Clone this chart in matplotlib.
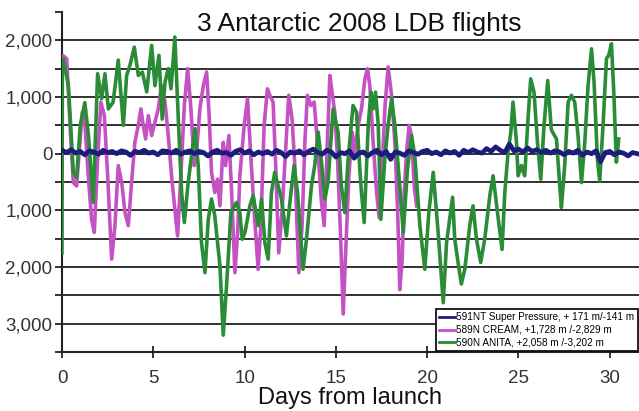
import matplotlib
matplotlib.use("Agg")
import matplotlib.pyplot as plt
from matplotlib.ticker import FuncFormatter, MultipleLocator

plt.rcParams['font.family'] = ['Liberation Sans', 'DejaVu Sans']

# ---- data (days from launch, altitude deviation in m) ----
anita_days = [0.0, 0.02, 0.07, 0.35, 0.62, 0.8, 1.0, 1.25, 1.45, 1.71, 1.95, 2.17, 2.35, 2.54, 2.8,
              3.08, 3.36, 3.54, 3.72, 3.96, 4.18, 4.4, 4.64, 4.91, 5.09, 5.31, 5.49, 5.64, 5.82, 5.97,
              6.18, 6.37, 6.55, 6.7, 6.91, 7.28, 7.46, 7.64, 7.83, 8.01, 8.19, 8.37, 8.65, 8.83, 9.01,
              9.25, 9.56, 9.74, 9.87, 10.02, 10.29, 10.47, 10.75, 10.93, 11.11, 11.29, 11.47, 11.65,
              11.84, 12.02, 12.29, 12.48, 12.71, 12.9, 13.2, 13.39, 13.66, 13.84, 14.03, 14.21, 14.39,
              14.57, 14.85, 15.12, 15.3, 15.49, 15.67, 15.94, 16.13, 16.31, 16.4, 16.55, 16.77, 16.92,
              17.04, 17.17, 17.32, 17.46, 17.68, 17.86, 18.05, 18.23, 18.41, 18.69, 18.92, 19.14, 19.32,
              19.6, 19.87, 20.09, 20.33, 20.6, 20.88, 21.06, 21.39, 21.51, 21.69, 21.87, 22.06, 22.33,
              22.51, 22.7, 22.93, 23.15, 23.43, 23.61, 23.85, 24.1, 24.25, 24.43, 24.58, 24.7, 24.89,
              24.98, 25.16, 25.34, 25.52, 25.67, 25.85, 26.04, 26.22, 26.4, 26.6, 26.8, 27.08, 27.26,
              27.35, 27.53, 27.72, 27.9, 28.08, 28.26, 28.45, 28.63, 28.81, 29.0, 29.14, 29.32, 29.45,
              29.63, 29.82, 29.94, 30.09, 30.22, 30.36, 30.49]
anita_alt = [-1750, 1650, 1675, 1200, -330, -420, 500, 900, 320, -860, 1410, 970, 1410, 790, 910,
             1650, 500, 1380, 1560, 1880, 1380, 1440, 1090, 1910, 1200, 1735, 610, 1260, 1500, 1145,
             2058, 610, -685, -1215, -510, 440, -210, -1570, -2100, -1160, -800, -1100, -1980, -3202, -2340,
             -1040, -860, -1040, -1510, -1390, -920, -740, -1270, -800, -1570, -1860, -685, -330,
             -570, -800, -1450, -860, -210, -685, -2040, -1510, -570, -210, 380, -150, -800,
             -510, 790, 380, -570, -1040, -95, 850, 730, -270, -685, -1215, 500, 1085,
             790, 1085, 500, -1160, -95, 500, 970, 500, -210, -1390, -270, 320, -35,
             -1270, -2040, -1040, -330, -1390, -2630, -1570, -770, -1510, -1920, -2300, -2040, -1270,
             -920, -1510, -1920, -1510, -740, -390, -1040, -1690, -685, 25, 380, 910, 200,
             -390, -210, -390, 610, 1320, 1085, 200, -450, 500, 1290, 420, 260, -570,
             -950, -210, 910, 1030, 910, 320, -510, 200, 1200, 1850, 1260, -95, -480,
             500, 1680, 1735, 1940, 1085, -150, 260]

cream_days = [0.0, 0.07, 0.26, 0.44, 0.62, 0.8, 0.98, 1.11, 1.26, 1.44, 1.62, 1.77, 1.95, 2.13, 2.32,
              2.5, 2.72, 2.9, 3.08, 3.27, 3.45, 3.63, 3.81, 3.99, 4.18, 4.32, 4.45, 4.58, 4.73, 4.91,
              5.09, 5.27, 5.45, 5.64, 5.82, 6.0, 6.18, 6.33, 6.51, 6.7, 6.88, 7.06, 7.24, 7.37, 7.55,
              7.74, 7.92, 8.05, 8.19, 8.37, 8.52, 8.65, 8.83, 8.96, 9.14, 9.29, 9.47, 9.62, 9.74, 9.98,
              10.16, 10.35, 10.53, 10.74, 10.89, 11.07, 11.25, 11.38, 11.56, 11.69, 11.87, 12.06,
              12.24, 12.42, 12.6, 12.75, 12.97, 13.15, 13.3, 13.44, 13.63, 13.81, 13.99, 14.21, 14.36,
              14.48, 14.67, 14.79, 14.94, 15.09, 15.27, 15.4, 15.52, 15.71, 15.89, 16.03, 16.22,
              16.4, 16.59, 16.73, 16.86, 17.04, 17.23, 17.37, 17.5, 17.68, 17.86, 18.05, 18.23, 18.38,
              18.5, 18.63, 18.74, 18.87, 19.01, 19.14, 19.29, 19.42]
cream_alt = [1650, 1728, 1675, 500, -510, -570, 200, 730, 500, -390, -1160, -1390, -95, 910, 670,
             -390, -1860, -1270, -210, -510, -1040, -1270, -510, 200, 500, 790, 500, 260, 670, 320,
             555, 790, 1200, 910, 320, -390, -980, -1450, -390, 850, 1500, 790, -210, 25, 790,
             1200, 1440, 730, -330, -685, -450, -920, 200, -210, 320, -685, -2100, -1390, -390, 500,
             970, -95, -1040, -2040, -1270, 500, 1145, 1030, 910, -95, -1750, -980,
             25, 1030, 610, -210, -2100, -1270, 200, 1030, 850, 910, 200, -860, -1270,
             -270, 1380, 1085, 730, -95, -1570, -2829, -1860, -390, 380, 25, 500,
             790, 1320, 1500, 1200, 200, -685, -1130, -510, 790, 1530, 1030, 200, -980,
             -2400, -1860, -685, 25, 500, 320, -570, -920]

sp_days = [i * 0.25 for i in range(127)]
sp_alt = [60, 20, 70, 10, 40, -20, 50, 30, -10, 60, 20, 40, 0, 50, 30, -30, 40, 20, 60, 10,
          30, -20, 50, 40, 10, 60, -10, 30, 50, 0, 40, 20, -40, 30, 60, 10, 20, -30, 40, 70,
          10, 50, -20, 30, 0, 40, -10, 60, 20, -50, 30, 10, 50, -20, 40, 80, 20, -10, 60, 30,
          -60, 20, 0, 50, -80, 10, 30, -40, 20, 60, -20, 40, -100, 30, 10, -30, 50, 20, -10, 40,
          60, 0, 30, -20, 50, 10, 40, -30, 60, 20, 70, 30, 10, 90, 40, 120, 60, 20, 171, 50,
          80, 30, 100, 40, 70, 20, 60, 10, 50, 30, -20, 40, 10, 60, -30, 30, 0, 50, -141, 20,
          40, -20, 30, 10, -40, 20, 0]

labels = ["591NT Super Pressure, + 171 m/-141 m",
          "589N CREAM, +1,728 m /-2,829 m",
          "590N ANITA, +2,058 m /-3,202 m"]
colors = ["#1c1c7c", "#c452c4", "#2a8c36"]

fig = plt.figure(figsize=(6.39, 4.11), dpi=100)
ax = fig.add_axes([62 / 639, 1 - 352 / 411, 1 - 62 / 639, 340 / 411])

ax.set_xlim(0, 31.6)
ax.set_ylim(-3500, 2500)

for v in range(-3000, 2001, 500):
    ax.axhline(v, color="#222222", lw=1.3, zorder=1)

l_cream, = ax.plot(cream_days, cream_alt, color=colors[1], lw=2.6, zorder=3,
                   solid_joinstyle="round")
l_anita, = ax.plot(anita_days, anita_alt, color=colors[2], lw=2.6, zorder=4,
                   solid_joinstyle="round")
l_sp, = ax.plot(sp_days, sp_alt, color=colors[0], lw=3.4, zorder=5, solid_joinstyle="round")

for s in ["top", "right"]:
    ax.spines[s].set_visible(False)
ax.spines["left"].set_linewidth(1.5)
ax.spines["bottom"].set_linewidth(1.5)
ax.spines["left"].set_color("#222222")
ax.spines["bottom"].set_color("#222222")

ax.yaxis.set_major_locator(MultipleLocator(500))
ax.yaxis.set_major_formatter(FuncFormatter(
    lambda v, p: "" if (abs(v) % 1000 != 0 or abs(v) > 3000 or v > 2000) else f"{abs(int(v)):,}"))
ax.xaxis.set_major_locator(MultipleLocator(5))
ax.tick_params(axis="y", direction="out", length=5, width=1.3, labelsize=13.5, colors="#222222",
               labelcolor="#333333", pad=2)
ax.tick_params(axis="x", direction="inout", length=8, width=1.3, labelsize=13.5, colors="#222222",
               labelcolor="#333333", pad=9)

ax.set_xlabel("Days from launch", fontsize=17, color="#111111", labelpad=0)
ax.text(0.516, 0.944, "3 Antarctic 2008 LDB flights", transform=ax.transAxes, ha="center",
        va="baseline", fontsize=19, color="#111111")

leg = ax.legend([l_sp, l_cream, l_anita], labels, loc="lower right", bbox_to_anchor=(1.0, 0.0),
                fontsize=7.2, frameon=True, fancybox=False, edgecolor="#111111", framealpha=1,
                handlelength=1.6, handletextpad=0.1, borderpad=0.35, labelspacing=0.25,
                borderaxespad=0.1)
leg.get_frame().set_linewidth(1.3)
for h in leg.get_lines():
    h.set_linewidth(2)

fig.savefig("out.png", dpi=100)
